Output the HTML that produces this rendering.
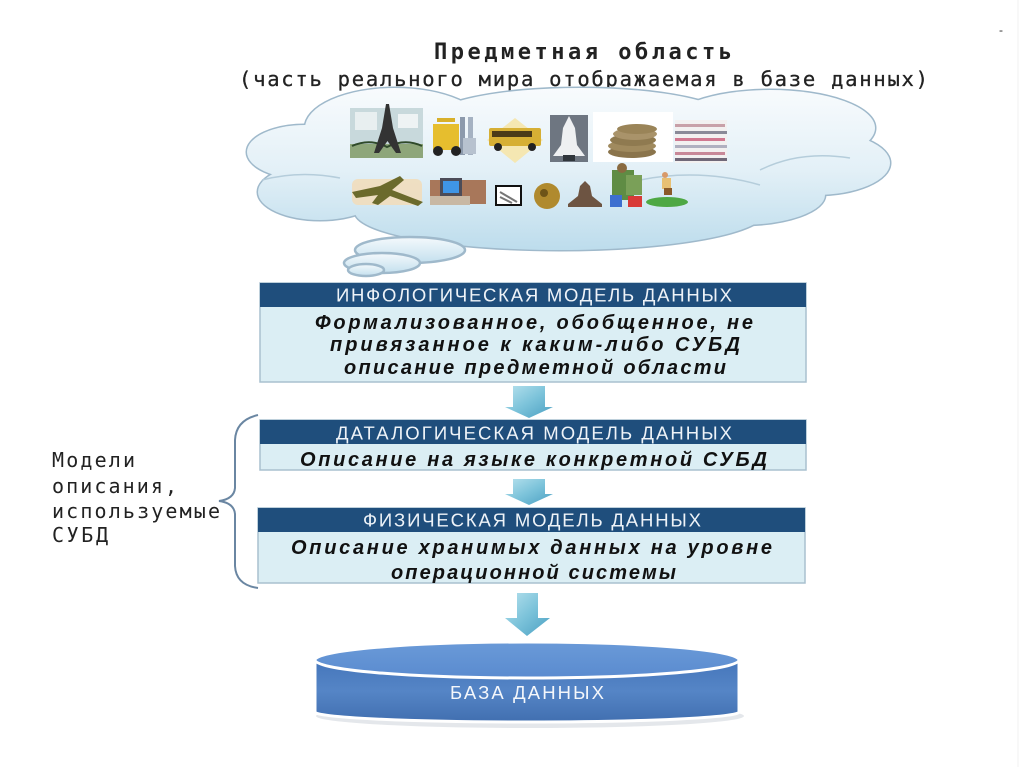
<!DOCTYPE html>
<html><head><meta charset="utf-8"><style>
html,body{margin:0;padding:0;background:#fff;}
svg{display:block;}
</style></head><body>
<svg width="1024" height="767" viewBox="0 0 1024 767" xmlns="http://www.w3.org/2000/svg">
<defs>
<linearGradient id="cl" x1="0" y1="88" x2="0" y2="252" gradientUnits="userSpaceOnUse">
<stop offset="0" stop-color="#f8fbfd"/><stop offset="0.5" stop-color="#e3f0f7"/><stop offset="1" stop-color="#bcdcec"/>
</linearGradient>
<linearGradient id="bb" x1="0" y1="0" x2="0" y2="1">
<stop offset="0" stop-color="#f4f9fc"/><stop offset="1" stop-color="#c4e0ee"/>
</linearGradient>
<linearGradient id="ar" x1="0" y1="0" x2="1" y2="1">
<stop offset="0" stop-color="#b8e2ee"/><stop offset="0.5" stop-color="#7cc3da"/><stop offset="1" stop-color="#4a9fc2"/>
</linearGradient>
<linearGradient id="cyb" x1="0" y1="0" x2="0" y2="1">
<stop offset="0" stop-color="#4576bb"/><stop offset="0.5" stop-color="#5585c6"/><stop offset="1" stop-color="#416fb0"/>
</linearGradient>
<linearGradient id="cyt" x1="0" y1="0" x2="0" y2="1">
<stop offset="0" stop-color="#6a9ad8"/><stop offset="1" stop-color="#5a8bcf"/>
</linearGradient>
</defs>

<rect width="1024" height="767" fill="#fff"/>
<line x1="1018" y1="0" x2="1018" y2="767" stroke="#f0f0f0" stroke-width="1"/>
<text x="999" y="34" font-family="Liberation Sans, sans-serif" font-size="12" fill="#333">-</text>

<!-- Title -->
<text x="434" y="59" font-family="DejaVu Sans Mono, monospace" font-weight="bold" font-size="22" fill="#222" textLength="298" lengthAdjust="spacing">Предметная область</text>
<text x="239" y="86" font-family="DejaVu Sans Mono, monospace" font-size="20.5" fill="#222" stroke="#222" stroke-width="0.3" textLength="689" lengthAdjust="spacing">(часть реального мира отображаемая в базе данных)</text>

<!-- Cloud outline pass -->
<g fill="none" stroke="#9fb9cb" stroke-width="3">
<ellipse cx="305" cy="152" rx="58" ry="27"/>
<ellipse cx="320" cy="192" rx="62" ry="28"/>
<ellipse cx="395" cy="128" rx="90" ry="40"/>
<ellipse cx="580" cy="120" rx="150" ry="32"/>
<ellipse cx="770" cy="128" rx="105" ry="38"/>
<ellipse cx="815" cy="163" rx="75" ry="32"/>
<ellipse cx="560" cy="212" rx="205" ry="38"/>
<ellipse cx="740" cy="195" rx="85" ry="30"/>
</g>
<g fill="url(#cl)">
<ellipse cx="305" cy="152" rx="58" ry="27"/>
<ellipse cx="320" cy="192" rx="62" ry="28"/>
<ellipse cx="395" cy="128" rx="90" ry="40"/>
<ellipse cx="580" cy="120" rx="150" ry="32"/>
<ellipse cx="770" cy="128" rx="105" ry="38"/>
<ellipse cx="815" cy="163" rx="75" ry="32"/>
<ellipse cx="560" cy="212" rx="205" ry="38"/>
<ellipse cx="740" cy="195" rx="85" ry="30"/>
<ellipse cx="560" cy="165" rx="262" ry="55"/>
</g>
<g fill="none" stroke="#b5cddb" stroke-width="1.5">
<path d="M262,180 Q300,170 340,178"/>
<path d="M760,170 Q800,150 850,158"/>
<path d="M640,180 Q700,168 760,185"/>
</g>
<g stroke="#9fb9cb" stroke-width="2.5" fill="url(#bb)">
<ellipse cx="410" cy="250" rx="55" ry="13"/>
<ellipse cx="382" cy="263" rx="38" ry="10"/>
<ellipse cx="366" cy="270" rx="18" ry="6"/>
</g>

<!-- Icons row 1 -->
<g>
<rect x="350" y="108" width="73" height="50" fill="#c8d9dc"/>
<rect x="355" y="112" width="22" height="18" fill="#e8eff0"/>
<rect x="398" y="114" width="20" height="14" fill="#eef3f4"/>
<rect x="350" y="144" width="73" height="14" fill="#8ea67a"/>
<path d="M352,146 Q370,138 387,147 Q405,138 422,146" fill="none" stroke="#2f4a2a" stroke-width="2"/>
<polygon points="386,104 389,104 393,128 401,153 396,153 387.5,141 379,153 374,153 382,128" fill="#333"/>
<rect x="460" y="117" width="5" height="38" fill="#8c9aac"/>
<rect x="468" y="117" width="5" height="38" fill="#a5b2c2"/>
<rect x="433" y="124" width="26" height="26" fill="#e6be2e"/>
<rect x="437" y="118" width="18" height="4" fill="#d8b02a"/>
<rect x="463" y="138" width="13" height="16" fill="#b7c2cf"/>
<circle cx="438" cy="151" r="5" fill="#222"/>
<circle cx="456" cy="151" r="5" fill="#222"/>
<polygon points="515,118 543,140 515,163 487,140" fill="#f5e7b2"/>
<rect x="489" y="128" width="52" height="18" rx="2" fill="#d6af34"/>
<rect x="492" y="131" width="40" height="6" fill="#4a3a18"/>
<circle cx="498" cy="147" r="4" fill="#222"/>
<circle cx="532" cy="147" r="4" fill="#222"/>
<rect x="550" y="115" width="38" height="47" fill="#6e7681"/>
<polygon points="569,116 575,128 577,145 585,156 553,156 561,145 563,128" fill="#eef0f2"/>
<rect x="563" y="155" width="12" height="6" fill="#30363c"/>
<rect x="593" y="112" width="80" height="50" fill="#ffffff"/>
<ellipse cx="632" cy="152" rx="24" ry="6" fill="#8a744c"/>
<ellipse cx="632" cy="146" rx="24" ry="6" fill="#a08a5e"/>
<ellipse cx="633" cy="140" rx="23" ry="6" fill="#8f7a50"/>
<ellipse cx="635" cy="134" rx="22" ry="6" fill="#a9936a"/>
<ellipse cx="637" cy="129" rx="20" ry="5" fill="#9a8458"/>
<rect x="675" y="120" width="52" height="43" fill="#f2f0f0"/>
<rect x="675" y="124" width="50" height="3" fill="#c8a0a8"/>
<rect x="675" y="131" width="52" height="3" fill="#8a8a98"/>
<rect x="675" y="138" width="50" height="3" fill="#d07890"/>
<rect x="675" y="145" width="52" height="3" fill="#b0b0c0"/>
<rect x="675" y="152" width="50" height="3" fill="#c88898"/>
<rect x="675" y="158" width="52" height="3" fill="#706878"/>
</g>
<!-- Icons row 2 -->
<g>
<rect x="352" y="179" width="70" height="26" rx="6" fill="#f2dcb8" opacity="0.85"/>
<polygon points="352,192 380,186 400,176 404,180 392,190 423,202 418,206 390,196 378,205 372,203 378,195 356,198" fill="#6b6a2c"/>
<rect x="430" y="180" width="56" height="24" fill="#a8775a"/>
<rect x="430" y="196" width="40" height="9" fill="#c8b8a4"/>
<rect x="440" y="178" width="22" height="18" fill="#4c4c58"/>
<rect x="443" y="181" width="16" height="12" fill="#3f95e6"/>
<rect x="496" y="186" width="25" height="19" fill="#fff" stroke="#111" stroke-width="2"/>
<path d="M500,192 L517,202 M500,197 L512,203" stroke="#777" stroke-width="2"/>
<circle cx="547" cy="196" r="13" fill="#b08a2e"/>
<circle cx="544" cy="193" r="4" fill="#6e5418"/>
<polygon points="585,181 590,186 592,196 602,204 602,207 568,207 568,204 578,196 580,186" fill="#6d5442"/>
<rect x="612" y="170" width="22" height="30" fill="#5f8c44"/>
<circle cx="622" cy="168" r="5" fill="#8a6a40"/>
<rect x="626" y="175" width="16" height="20" fill="#7aa058"/>
<rect x="610" y="195" width="12" height="12" fill="#3d6fd0"/>
<rect x="628" y="196" width="14" height="11" fill="#d83a38"/>
<ellipse cx="667" cy="202" rx="21" ry="5" fill="#4ea844"/>
<rect x="662" y="178" width="9" height="11" fill="#e8c074"/>
<rect x="664" y="188" width="8" height="7" fill="#8a5a2a"/>
<circle cx="665" cy="175" r="3" fill="#d89a6a"/>
</g>

<!-- Box 1 -->
<rect x="260" y="283" width="546" height="99" fill="#dbeef4" stroke="#a9c0cf" stroke-width="1.5"/>
<rect x="260" y="283" width="546" height="24" fill="#1f4e7c"/>
<text x="336" y="301.5" font-family="Liberation Sans, sans-serif" font-size="18.5" fill="#eef3f8" textLength="396" lengthAdjust="spacing">ИНФОЛОГИЧЕСКАЯ МОДЕЛЬ ДАННЫХ</text>
<g font-family="Liberation Sans, sans-serif" font-weight="bold" font-style="italic" font-size="20" fill="#111">
<text x="315" y="329" textLength="438" lengthAdjust="spacing">Формализованное, обобщенное, не</text>
<text x="330" y="351" textLength="410" lengthAdjust="spacing">привязанное к каким-либо СУБД</text>
<text x="344" y="374" textLength="382" lengthAdjust="spacing">описание предметной области</text>
</g>

<polygon points="513,386 545,386 545,407 553,407 529,418 505,407 513,407" fill="url(#ar)"/>

<!-- Box 2 -->
<rect x="260" y="420" width="546" height="50" fill="#dbeef4" stroke="#a9c0cf" stroke-width="1.5"/>
<rect x="260" y="420" width="546" height="24" fill="#1f4e7c"/>
<text x="336" y="439.5" font-family="Liberation Sans, sans-serif" font-size="18.5" fill="#eef3f8" textLength="396" lengthAdjust="spacing">ДАТАЛОГИЧЕСКАЯ МОДЕЛЬ ДАННЫХ</text>
<text x="300" y="466" font-family="Liberation Sans, sans-serif" font-weight="bold" font-style="italic" font-size="20" fill="#111" textLength="467" lengthAdjust="spacing">Описание на языке конкретной СУБД</text>

<polygon points="513,479 545,479 545,494 553,494 529,505 505,494 513,494" fill="url(#ar)"/>

<!-- Box 3 -->
<rect x="258" y="508" width="547" height="75" fill="#dbeef4" stroke="#a9c0cf" stroke-width="1.5"/>
<rect x="258" y="508" width="547" height="24" fill="#1f4e7c"/>
<text x="363" y="526.5" font-family="Liberation Sans, sans-serif" font-size="18.5" fill="#eef3f8" textLength="338" lengthAdjust="spacing">ФИЗИЧЕСКАЯ МОДЕЛЬ ДАННЫХ</text>
<g font-family="Liberation Sans, sans-serif" font-weight="bold" font-style="italic" font-size="20" fill="#111">
<text x="291" y="554" textLength="481" lengthAdjust="spacing">Описание хранимых данных на уровне</text>
<text x="391" y="579" textLength="285" lengthAdjust="spacing">операционной системы</text>
</g>

<!-- Brace -->
<path d="M258,415 Q236,420 235,440 L235,488 Q234,499 219,501 Q234,503 235,514 L235,566 Q236,585 258,588" fill="none" stroke="#6a86a2" stroke-width="2"/>

<!-- Left label -->
<g font-family="DejaVu Sans Mono, monospace" font-size="20" fill="#222">
<text x="52" y="467" textLength="83" lengthAdjust="spacing">Модели</text>
<text x="52" y="493" textLength="125" lengthAdjust="spacing">описания,</text>
<text x="52" y="518" textLength="168" lengthAdjust="spacing">используемые</text>
<text x="52" y="542" textLength="56" lengthAdjust="spacing">СУБД</text>
</g>

<polygon points="517,593 538,593 538,618 550,618 527,636 505,618 517,618" fill="url(#ar)"/>

<!-- Cylinder -->
<ellipse cx="530" cy="716" rx="214" ry="12" fill="#d8dde2" opacity="0.7"/>
<path d="M315,660 L315,712 A212,10 0 0 0 739,712 L739,660 Z" fill="url(#cyb)" stroke="#ffffff" stroke-width="3"/>
<ellipse cx="527" cy="660" rx="212" ry="18" fill="url(#cyt)" stroke="#ffffff" stroke-width="3"/>
<text x="450" y="699" font-family="Liberation Sans, sans-serif" font-size="18.5" fill="#f4f7fb" textLength="154" lengthAdjust="spacing">БАЗА  ДАННЫХ</text>
</svg>
</body></html>
